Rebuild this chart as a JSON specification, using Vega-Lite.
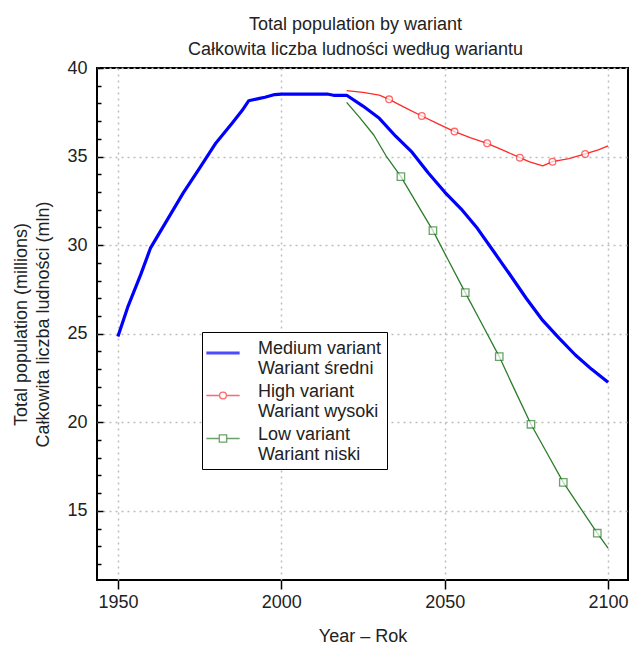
{
  "$schema": "https://vega.github.io/schema/vega-lite/v6.json",
  "width": 531,
  "height": 512,
  "autosize": {"type": "none"},
  "padding": {"left": 97, "top": 68, "right": 5, "bottom": 70},
  "background": "white",
  "config": {
    "font": "Liberation Sans",
    "view": {"stroke": "black", "strokeWidth": 2},
    "axis": {
      "labelFont": "Liberation Sans",
      "labelFontSize": 18,
      "labelColor": "#222222",
      "titleFont": "Liberation Sans",
      "titleFontSize": 18,
      "titleFontWeight": "normal",
      "titleColor": "#222222",
      "domain": false,
      "gridColor": "#bdbdbd",
      "gridDash": [2, 4],
      "gridWidth": 1.5,
      "tickColor": "black",
      "tickWidth": 1.5,
      "labelFlush": false,
      "labelOverlap": false
    },
    "legend": {
      "title": null,
      "orient": "none",
      "legendX": 105,
      "legendY": 264,
      "labelFont": "Liberation Sans",
      "labelFontSize": 18,
      "labelColor": "#222222",
      "labelLimit": 400,
      "labelOffset": 23,
      "labelBaseline": "middle",
      "symbolSize": 430,
      "symbolOffset": 4,
      "strokeColor": "black",
      "fillColor": "white",
      "padding": 5,
      "rowPadding": 2
    }
  },
  "title": {
    "text": ["Total population by wariant", "Całkowita liczba ludności według wariantu"],
    "font": "Liberation Sans",
    "fontSize": 18,
    "fontWeight": "normal",
    "color": "#222222",
    "lineHeight": 25,
    "offset": 0,
    "dx": -7,
    "anchor": "middle"
  },
  "resolve": {"axis": {"y": "independent"}},
  "datasets": {
    "lines": [
      {"variant": "Medium", "year": 1950, "value": 24.85},
      {"variant": "Medium", "year": 1953, "value": 26.5},
      {"variant": "Medium", "year": 1957, "value": 28.35},
      {"variant": "Medium", "year": 1960, "value": 29.85},
      {"variant": "Medium", "year": 1965, "value": 31.4},
      {"variant": "Medium", "year": 1970, "value": 32.95},
      {"variant": "Medium", "year": 1975, "value": 34.35},
      {"variant": "Medium", "year": 1980, "value": 35.77},
      {"variant": "Medium", "year": 1985, "value": 36.9},
      {"variant": "Medium", "year": 1988, "value": 37.6},
      {"variant": "Medium", "year": 1990, "value": 38.15},
      {"variant": "Medium", "year": 1993, "value": 38.27},
      {"variant": "Medium", "year": 1995, "value": 38.35},
      {"variant": "Medium", "year": 1998, "value": 38.5},
      {"variant": "Medium", "year": 2000, "value": 38.53},
      {"variant": "Medium", "year": 2005, "value": 38.53},
      {"variant": "Medium", "year": 2010, "value": 38.53},
      {"variant": "Medium", "year": 2014, "value": 38.53},
      {"variant": "Medium", "year": 2016, "value": 38.46},
      {"variant": "Medium", "year": 2020, "value": 38.46},
      {"variant": "Medium", "year": 2025, "value": 37.85},
      {"variant": "Medium", "year": 2030, "value": 37.16},
      {"variant": "Medium", "year": 2035, "value": 36.15},
      {"variant": "Medium", "year": 2040, "value": 35.25},
      {"variant": "Medium", "year": 2045, "value": 34.07},
      {"variant": "Medium", "year": 2050, "value": 33.0},
      {"variant": "Medium", "year": 2055, "value": 32.05},
      {"variant": "Medium", "year": 2060, "value": 30.95},
      {"variant": "Medium", "year": 2065, "value": 29.64},
      {"variant": "Medium", "year": 2070, "value": 28.33},
      {"variant": "Medium", "year": 2075, "value": 26.99},
      {"variant": "Medium", "year": 2080, "value": 25.75},
      {"variant": "Medium", "year": 2085, "value": 24.75},
      {"variant": "Medium", "year": 2090, "value": 23.8},
      {"variant": "Medium", "year": 2095, "value": 22.99},
      {"variant": "Medium", "year": 2100, "value": 22.26},
      {"variant": "High", "year": 2020, "value": 38.72},
      {"variant": "High", "year": 2025, "value": 38.62},
      {"variant": "High", "year": 2030, "value": 38.47},
      {"variant": "High", "year": 2033, "value": 38.23},
      {"variant": "High", "year": 2038, "value": 37.75},
      {"variant": "High", "year": 2043, "value": 37.29},
      {"variant": "High", "year": 2048, "value": 36.85},
      {"variant": "High", "year": 2053, "value": 36.41},
      {"variant": "High", "year": 2058, "value": 36.05},
      {"variant": "High", "year": 2063, "value": 35.75},
      {"variant": "High", "year": 2068, "value": 35.35},
      {"variant": "High", "year": 2073, "value": 34.94},
      {"variant": "High", "year": 2076, "value": 34.7},
      {"variant": "High", "year": 2080, "value": 34.47},
      {"variant": "High", "year": 2083, "value": 34.71},
      {"variant": "High", "year": 2088, "value": 34.88},
      {"variant": "High", "year": 2093, "value": 35.15},
      {"variant": "High", "year": 2097, "value": 35.38},
      {"variant": "High", "year": 2100, "value": 35.6},
      {"variant": "Low", "year": 2020, "value": 38.06},
      {"variant": "Low", "year": 2024, "value": 37.2},
      {"variant": "Low", "year": 2028.3, "value": 36.22},
      {"variant": "Low", "year": 2032, "value": 35.06},
      {"variant": "Low", "year": 2036.6, "value": 33.87},
      {"variant": "Low", "year": 2041, "value": 32.5},
      {"variant": "Low", "year": 2046.4, "value": 30.82},
      {"variant": "Low", "year": 2051, "value": 29.19},
      {"variant": "Low", "year": 2056.3, "value": 27.32},
      {"variant": "Low", "year": 2061, "value": 25.69},
      {"variant": "Low", "year": 2066.7, "value": 23.71},
      {"variant": "Low", "year": 2071, "value": 22.0},
      {"variant": "Low", "year": 2076.4, "value": 19.89},
      {"variant": "Low", "year": 2081, "value": 18.37},
      {"variant": "Low", "year": 2086.3, "value": 16.61},
      {"variant": "Low", "year": 2091, "value": 15.31},
      {"variant": "Low", "year": 2096.7, "value": 13.74},
      {"variant": "Low", "year": 2100, "value": 12.9}
    ],
    "markers": [
      {"variant": "High", "year": 2033, "value": 38.23},
      {"variant": "High", "year": 2043, "value": 37.29},
      {"variant": "High", "year": 2053, "value": 36.41},
      {"variant": "High", "year": 2063, "value": 35.75},
      {"variant": "High", "year": 2073, "value": 34.94},
      {"variant": "High", "year": 2083, "value": 34.71},
      {"variant": "High", "year": 2093, "value": 35.15},
      {"variant": "Low", "year": 2036.6, "value": 33.87},
      {"variant": "Low", "year": 2046.4, "value": 30.82},
      {"variant": "Low", "year": 2056.3, "value": 27.32},
      {"variant": "Low", "year": 2066.7, "value": 23.71},
      {"variant": "Low", "year": 2076.4, "value": 19.89},
      {"variant": "Low", "year": 2086.3, "value": 16.61},
      {"variant": "Low", "year": 2096.7, "value": 13.74}
    ]
  },
  "layer": [
    {
      "data": {"name": "lines"},
      "transform": [{"filter": "datum.variant == 'Medium'"}],
      "mark": {"type": "line", "color": "#0000ff", "strokeWidth": 3.2, "strokeJoin": "round"},
      "encoding": {
        "x": {
          "field": "year",
          "type": "quantitative",
          "scale": {"domain": [1943.6, 2106.1], "nice": false, "zero": false},
          "axis": {
            "values": [1950, 2000, 2050, 2100],
            "format": "d",
            "tickSize": 9,
            "labelPadding": 4,
            "title": "Year – Rok",
            "titlePadding": 16,
            "grid": true
          }
        },
        "y": {
          "field": "value",
          "type": "quantitative",
          "scale": {"domain": [11.1, 40], "nice": false, "zero": false},
          "axis": {
            "orient": "left",
            "values": [15, 20, 25, 30, 35, 40],
            "tickSize": -6,
            "labelPadding": 16,
            "title": ["Total population (millions)", "Całkowita liczba ludności (mln)"],
            "titleLineHeight": 22,
            "titlePadding": 14,
            "grid": true
          }
        }
      }
    },
    {
      "data": {"name": "lines"},
      "transform": [{"filter": "datum.variant == 'High'"}],
      "mark": {"type": "line", "color": "#ff2a2a", "strokeWidth": 1.3, "strokeJoin": "round"},
      "encoding": {
        "x": {"field": "year", "type": "quantitative"},
        "y": {
          "field": "value",
          "type": "quantitative",
          "axis": {
            "orient": "left",
            "values": [12, 13, 14, 16, 17, 18, 19, 21, 22, 23, 24, 26, 27, 28, 29, 31, 32, 33, 34, 36, 37, 38, 39],
            "labels": false,
            "grid": false,
            "tickSize": -4,
            "title": null
          }
        }
      }
    },
    {
      "data": {"name": "lines"},
      "transform": [{"filter": "datum.variant == 'Low'"}],
      "mark": {"type": "line", "color": "#2b7d2b", "strokeWidth": 1.3, "strokeJoin": "round"},
      "encoding": {
        "x": {"field": "year", "type": "quantitative"},
        "y": {"field": "value", "type": "quantitative", "axis": null}
      }
    },
    {
      "data": {"name": "markers"},
      "transform": [{"filter": "datum.variant == 'High'"}],
      "mark": {"type": "point", "shape": "circle", "size": 45, "filled": false, "fill": "white", "stroke": "#ff2a2a", "strokeWidth": 1.3},
      "encoding": {
        "x": {"field": "year", "type": "quantitative"},
        "y": {"field": "value", "type": "quantitative", "axis": null}
      }
    },
    {
      "data": {"name": "markers"},
      "transform": [{"filter": "datum.variant == 'Low'"}],
      "mark": {"type": "point", "shape": "square", "size": 55, "filled": false, "fill": "white", "stroke": "#2b7d2b", "strokeWidth": 1.3},
      "encoding": {
        "x": {"field": "year", "type": "quantitative"},
        "y": {"field": "value", "type": "quantitative", "axis": null}
      }
    },
    {
      "data": {"name": "lines"},
      "mark": {"type": "point", "filled": false, "size": 0},
      "encoding": {
        "color": {
          "field": "variant",
          "type": "nominal",
          "scale": {"domain": ["Medium", "High", "Low"], "range": ["#0000ff", "#ff2a2a", "#2b7d2b"]},
          "legend": {
            "labelExpr": "datum.label == 'Medium' ? ['Medium variant', 'Wariant średni'] : datum.label == 'High' ? ['High variant', 'Wariant wysoki'] : ['Low variant', 'Wariant niski']"
          }
        },
        "shape": {
          "field": "variant",
          "type": "nominal",
          "scale": {
            "domain": ["Medium", "High", "Low"],
            "range": [
              "M-1.606,0.386H1.606",
              "M-1.606,0.386H-0.33M0.33,0.386H1.606M-0.33,0.386A0.33,0.33 0 1,0 0.33,0.386A0.33,0.33 0 1,0 -0.33,0.386Z",
              "M-1.606,0.386H-0.357M0.357,0.386H1.606M-0.357,0.029H0.357V0.743H-0.357Z"
            ]
          },
          "legend": {
            "labelExpr": "datum.label == 'Medium' ? ['Medium variant', 'Wariant średni'] : datum.label == 'High' ? ['High variant', 'Wariant wysoki'] : ['Low variant', 'Wariant niski']"
          }
        },
        "strokeWidth": {
          "field": "variant",
          "type": "nominal",
          "scale": {"type": "ordinal", "domain": ["Medium", "High", "Low"], "range": [3.2, 1.3, 1.3]},
          "legend": {
            "labelExpr": "datum.label == 'Medium' ? ['Medium variant', 'Wariant średni'] : datum.label == 'High' ? ['High variant', 'Wariant wysoki'] : ['Low variant', 'Wariant niski']"
          }
        }
      }
    }
  ]
}
